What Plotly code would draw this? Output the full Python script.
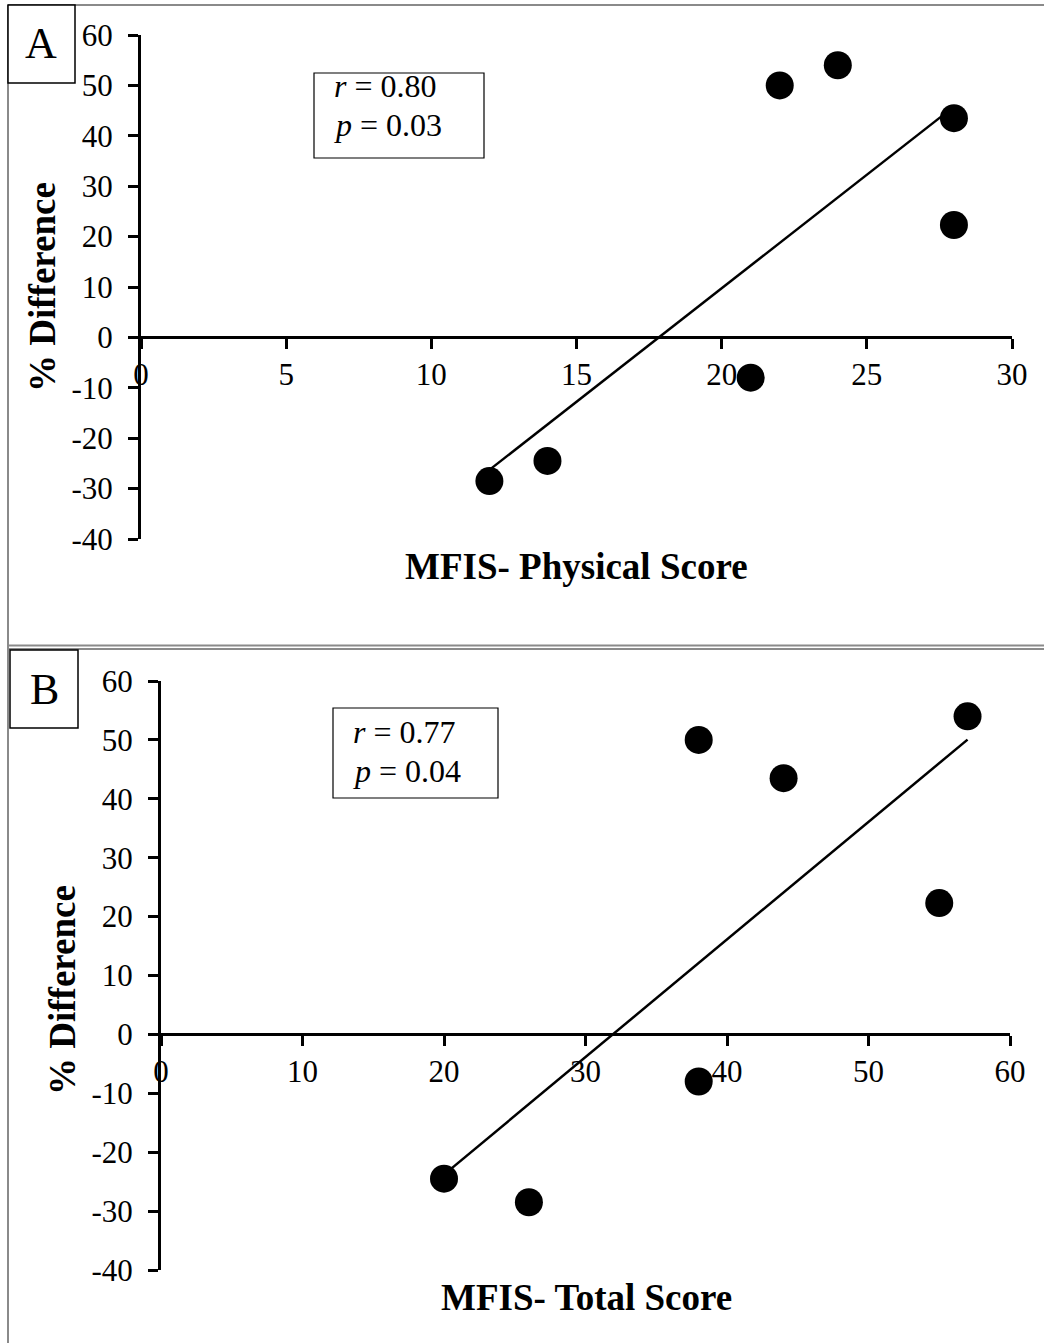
import numpy as np
import plotly.graph_objects as go

W, H = 1044, 1343
FONT = "Liberation Serif, Times New Roman, serif"

# ---- data ----
a_x = [12, 14, 21, 22, 24, 28, 28]
a_y = [-28.5, -24.5, -8, 50, 54, 43.5, 22.3]
b_x = [20, 26, 38, 38, 44, 55, 57]
b_y = [-24.5, -28.5, 50, -8, 43.5, 22.3, 54]

y_ticks = [-40, -30, -20, -10, 0, 10, 20, 30, 40, 50, 60]
a_x_ticks = [0, 5, 10, 15, 20, 25, 30]
b_x_ticks = [0, 10, 20, 30, 40, 50, 60]

a_stats = ["<i>r</i> = 0.80", "<i>p</i> = 0.03"]
b_stats = ["<i>r</i> = 0.77", "<i>p</i> = 0.04"]

a_xtitle = "MFIS- Physical Score"
b_xtitle = "MFIS- Total Score"
ytitle = "% Difference"


def px(x):
    return x / W


def py(y):
    return 1 - y / H


fig = go.Figure()

for xs, ys, xa, ya in [(a_x, a_y, "x", "y"), (b_x, b_y, "x2", "y2")]:
    slope, icpt = np.polyfit(xs, ys, 1)
    lx = [min(xs), max(xs)]
    ly = [slope * v + icpt for v in lx]
    fig.add_trace(go.Scatter(x=lx, y=ly, mode="lines", line=dict(color="black", width=2.5),
                             xaxis=xa, yaxis=ya, showlegend=False, hoverinfo="skip"))
    fig.add_trace(go.Scatter(x=xs, y=ys, mode="markers", marker=dict(color="black", size=28),
                             xaxis=xa, yaxis=ya, showlegend=False))

tickfont = dict(family=FONT, size=31, color="black")

common_x = dict(showgrid=False, zeroline=False, showline=True, linecolor="black", linewidth=3,
                ticks="outside", ticklen=10, tickwidth=3, tickcolor="black",
                tickfont=tickfont, anchor="free", ticklabelstandoff=-2, automargin=False)
common_y = dict(showgrid=False, zeroline=False, showline=True, linecolor="black", linewidth=3,
                ticks="outside", ticklen=10, tickwidth=3, tickcolor="black",
                tickfont=tickfont, range=[-40, 60], tickvals=y_ticks,
                ticktext=[str(v) for v in y_ticks], ticklabelstandoff=9, automargin=False)

# Panel geometry (pixels)
A_x0, A_x1, A_ytop, A_ybot = 141, 1012, 35, 539
B_x0, B_x1, B_ytop, B_ybot = 161, 1010, 681, 1270

A_zero = A_ytop + (A_ybot - A_ytop) * 0.6
B_zero = B_ytop + (B_ybot - B_ytop) * 0.6

fig.update_layout(
    width=W, height=H, autosize=False, margin=dict(l=0, r=0, t=0, b=0, pad=0),
    paper_bgcolor="white", plot_bgcolor="rgba(0,0,0,0)",
    font=dict(family=FONT, color="black"),
    xaxis=dict(domain=[px(A_x0), px(A_x1)], range=[0, 30], tickvals=a_x_ticks,
               ticktext=[str(v) for v in a_x_ticks], position=py(A_zero), **common_x),
    yaxis=dict(domain=[py(A_ybot), py(A_ytop)], anchor="x", **common_y),
    xaxis2=dict(domain=[px(B_x0), px(B_x1)], range=[0, 60], tickvals=b_x_ticks,
                ticktext=[str(v) for v in b_x_ticks], position=py(B_zero), **common_x),
    yaxis2=dict(domain=[py(B_ybot), py(B_ytop)], anchor="x2", **common_y),
)

gray = dict(color="#8a8a8a", width=2)
shapes = [
    # outer panel borders
    dict(type="line", xref="paper", yref="paper", x0=px(8), x1=px(8), y0=py(5), y1=py(1343), line=gray),
    dict(type="line", xref="paper", yref="paper", x0=px(8), x1=1, y0=py(5), y1=py(5), line=gray),
    dict(type="line", xref="paper", yref="paper", x0=px(8), x1=1, y0=py(645.5), y1=py(645.5), line=gray),
    dict(type="line", xref="paper", yref="paper", x0=px(8), x1=1, y0=py(649), y1=py(649), line=gray),
    # letter boxes
    dict(type="rect", xref="paper", yref="paper", x0=px(8), x1=px(75), y0=py(83), y1=py(5),
         line=dict(color="black", width=1.5), fillcolor="white"),
    dict(type="rect", xref="paper", yref="paper", x0=px(10), x1=px(78), y0=py(728), y1=py(650),
         line=dict(color="black", width=1.5), fillcolor="white"),
    # stats boxes
    dict(type="rect", xref="paper", yref="paper", x0=px(314), x1=px(484), y0=py(158), y1=py(73),
         line=dict(color="black", width=1.2), fillcolor="white"),
    dict(type="rect", xref="paper", yref="paper", x0=px(333), x1=px(498), y0=py(798), y1=py(708),
         line=dict(color="black", width=1.2), fillcolor="white"),
]
fig.update_layout(shapes=shapes)

ann = []
ann.append(dict(text="A", x=px(41), y=py(44), xref="paper", yref="paper", showarrow=False,
                font=dict(family=FONT, size=44, color="black"), xanchor="center", yanchor="middle"))
ann.append(dict(text="B", x=px(44), y=py(689), xref="paper", yref="paper", showarrow=False,
                font=dict(family=FONT, size=44, color="black"), xanchor="center", yanchor="middle"))
for lines, x0, yc in [(a_stats, 332, 86), (b_stats, 351, 732)]:
    for i, t in enumerate(lines):
        ann.append(dict(text=t, x=px(x0), y=py(yc + i * 38.5), xref="paper", yref="paper",
                        showarrow=False, xanchor="left", yanchor="middle",
                        font=dict(family=FONT, size=32, color="black")))
ann.append(dict(text="<b>%s</b>" % a_xtitle, x=px(576), y=py(566), xref="paper", yref="paper",
                showarrow=False, xanchor="center", yanchor="middle",
                font=dict(family=FONT, size=37, color="black")))
ann.append(dict(text="<b>%s</b>" % b_xtitle, x=px(586), y=py(1297), xref="paper", yref="paper",
                showarrow=False, xanchor="center", yanchor="middle",
                font=dict(family=FONT, size=37, color="black")))
ann.append(dict(text="<b>%s</b>" % ytitle, x=px(42), y=py(287), xref="paper", yref="paper",
                showarrow=False, xanchor="center", yanchor="middle", textangle=-90,
                font=dict(family=FONT, size=37, color="black")))
ann.append(dict(text="<b>%s</b>" % ytitle, x=px(62), y=py(990), xref="paper", yref="paper",
                showarrow=False, xanchor="center", yanchor="middle", textangle=-90,
                font=dict(family=FONT, size=37, color="black")))
fig.update_layout(annotations=ann)

fig.write_html("out.html")
